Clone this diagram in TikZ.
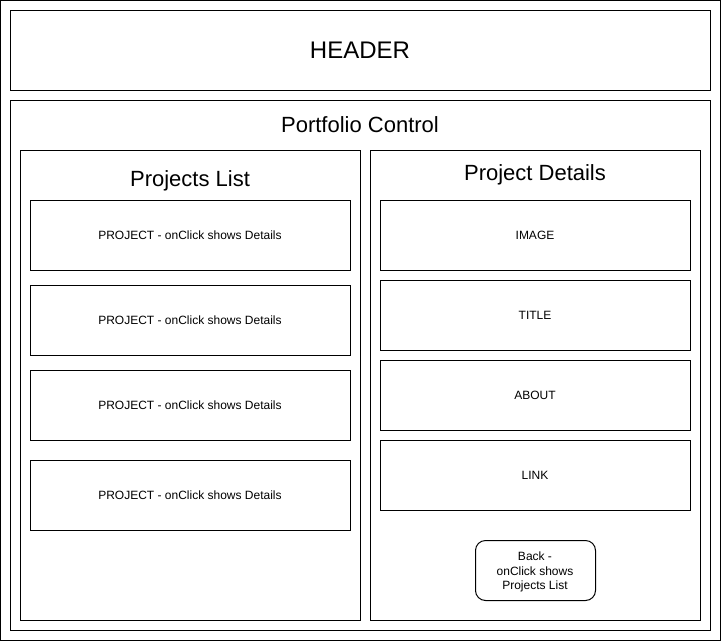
\documentclass[tikz,border=0pt]{standalone}
\usepackage{fontspec}
\setmainfont{Liberation Sans}
\begin{document}
\begin{tikzpicture}[x=1pt,y=-1pt,
  box/.style={draw=black,line width=1pt,fill=white},
  lbl/.style={font=\fontsize{12}{14}\selectfont,align=center},
  big/.style={font=\fontsize{24}{28}\selectfont},
  mid/.style={font=\fontsize{22}{26}\selectfont}]
\useasboundingbox[fill=white] (0,0) rectangle (721,641);
\draw[box] (0.5,0.5) rectangle (720.5,640.5);
\draw[box] (10.5,10.5) rectangle (710.5,90.5);
\node[big] (header) at (360,50) {HEADER};
\draw[box] (10.5,100.5) rectangle (710.5,630.5);
\node[mid] (pc) at (360,125) {Portfolio Control};
\draw[box] (20.5,150.5) rectangle (360.5,620.5);
\node[mid] (pl) at (190,181) {Projects List};
\draw[box] (370.5,150.5) rectangle (700.5,620.5);
\node[mid] (pd) at (535,175) {Project Details};
\foreach \y/\n in {200/p1,285/p2,370/p3,460/p4}{
  \draw[box] (30.5,\y+0.5) rectangle (350.5,\y+70.5);
  \node[lbl] (\n) at (190,\y+35) {PROJECT - onClick shows Details};
}
\foreach \y/\t/\n in {200/IMAGE/d1,280/TITLE/d2,360/ABOUT/d3,440/LINK/d4}{
  \draw[box] (380.5,\y+0.5) rectangle (690.5,\y+70.5);
  \node[lbl] (\n) at (535,\y+35) {\t};
}
\draw[box,rounded corners=10pt] (475.5,540.5) rectangle (595.5,600.5);
\node[lbl,font=\fontsize{12}{14.5}\selectfont] (back) at (535,572) {Back -\\onClick shows\\Projects List};
\end{tikzpicture}
\end{document}
